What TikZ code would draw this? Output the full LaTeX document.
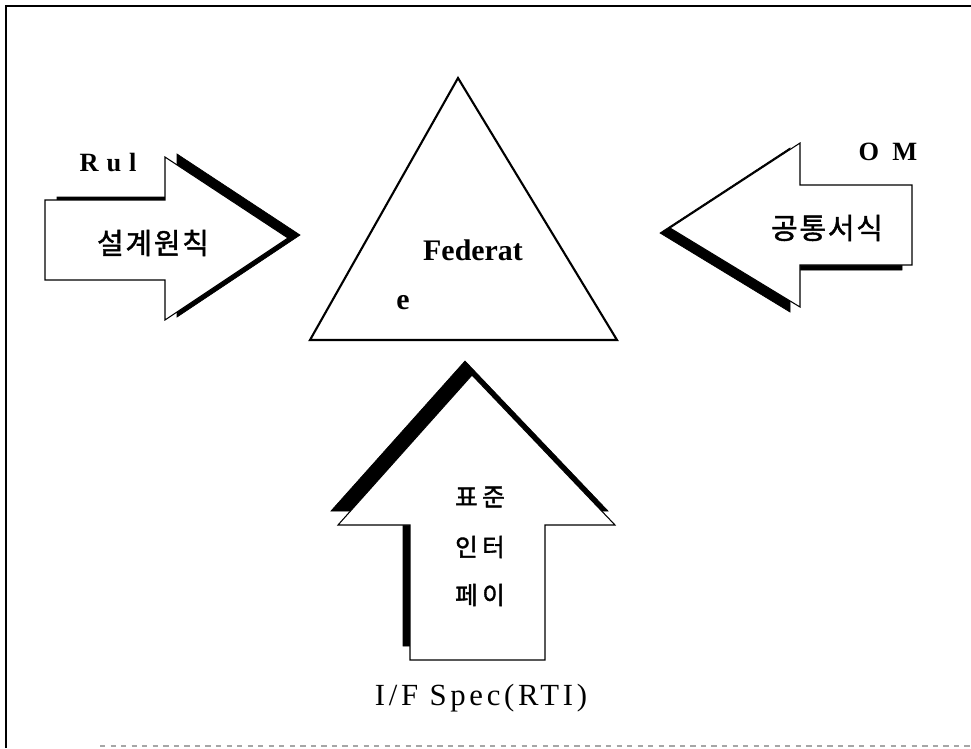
\documentclass[tikz,border=0pt]{standalone}
\usepackage{fontspec}
\setmainfont{Liberation Serif}
\newfontfamily\kor[LetterSpace=6,FakeBold=1.5]{Noto Sans CJK KR}
\newfontfamily\korwide[LetterSpace=18,FakeBold=1.5]{Noto Sans CJK KR}
\newfontfamily\spaced[LetterSpace=30]{Liberation Serif}
\newfontfamily\specfont[LetterSpace=12]{Liberation Serif}
\usetikzlibrary{positioning}

\begin{document}
\begin{tikzpicture}[x=0.02cm,y=-0.02cm,
    shade/.style={fill=black,draw=black},
    body/.style={fill=white,draw=black,line width=0.6pt},
    korlabel/.style={font=\kor\fontsize{16.5}{20}\selectfont},
    uplabel/.style={font=\korwide\fontsize{14}{17}\selectfont}]
    \useasboundingbox (0,0) rectangle (971,748);

    % Frame
    \draw[line width=1pt] (6,748) -- (6,6) -- (971,6);
    \draw[black!35,dashed,line width=0.6pt] (100,746) -- (971,746);

    % Federate triangle
    \draw[line width=1.2pt] (458,78) -- (310,340) -- (617,340) -- cycle;
    \node[font=\bfseries\fontsize{17}{20}\selectfont] (fed) at (473,250) {Federat};
    \node[font=\bfseries\fontsize{17}{20}\selectfont] (fede) at (403,303) {e};

    % Left arrow: design rules
    \fill[shade,shift={(12,-3)}] (45,200) -- (165,200) -- (165,157) -- (288,238)
        -- (165,320) -- (165,280) -- (45,280) -- cycle;
    \draw[body] (45,200) -- (165,200) -- (165,157) -- (288,238)
        -- (165,320) -- (165,280) -- (45,280) -- cycle;
    \node[font=\spaced\bfseries\fontsize{15}{18}\selectfont] (rul) at (108,163) {Rul};
    \node[korlabel] (rules) at (153,243) {설계원칙};

    % Right arrow: common format
    \fill[shade,shift={(-10,5)}] (912,185) -- (800,185) -- (800,143) -- (670,228)
        -- (800,307) -- (800,265) -- (912,265) -- cycle;
    \draw[body] (912,185) -- (800,185) -- (800,143) -- (670,228)
        -- (800,307) -- (800,265) -- (912,265) -- cycle;
    \node[font=\bfseries\fontsize{15}{18}\selectfont] (om) at (888,152) {O\hspace{0.5em}M};
    \node[korlabel] (format) at (827,228) {공통서식};

    % Up arrow: standard interface
    \fill[shade,shift={(-7,-14)}] (410,660) -- (410,525) -- (338,525) -- (472,375)
        -- (615,525) -- (545,525) -- (545,660) -- cycle;
    \draw[body] (410,660) -- (410,525) -- (338,525) -- (472,375)
        -- (615,525) -- (545,525) -- (545,660) -- cycle;
    \node[uplabel] (std) at (480,497) {표준};
    \node[uplabel] (inter) at (480,547) {인터};
    \node[uplabel] (face) at (480,595) {페이};
    \node[font=\specfont\fontsize{17.5}{20}\selectfont] (spec) at (481,698) {I/F Spec(RTI)};

\end{tikzpicture}
\end{document}
